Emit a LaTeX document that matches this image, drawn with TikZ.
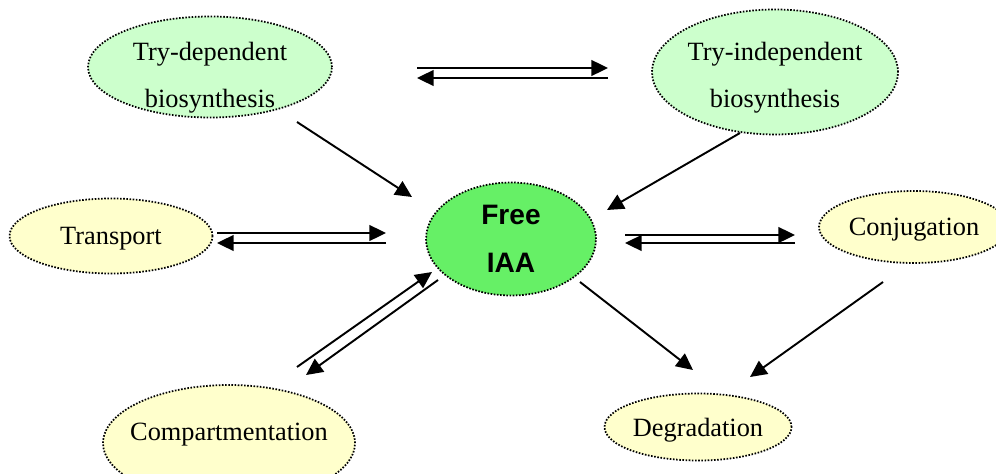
\documentclass[tikz,border=0pt]{standalone}
\usepackage{fontspec}
\setmainfont{Liberation Serif}
\newfontfamily\arialbold{Liberation Sans}
\usetikzlibrary{shapes.geometric,arrows.meta}
\definecolor{verdeclaro}{HTML}{CCFFCC}
\definecolor{amarillo}{HTML}{FFFFCC}
\definecolor{verde}{HTML}{66F066}

\begin{document}
\begin{tikzpicture}[
    x=0.02cm,y=-0.02cm,
    every node/.style={font=\fontsize{15pt}{26.6pt}\selectfont,align=center},
    ell/.style={ellipse,draw=black,line width=1pt,dash pattern=on 0.9pt off 0.9pt,inner sep=0pt},
    green/.style={ell,fill=verdeclaro},
    yellow/.style={ell,fill=amarillo,text depth=0pt},
    core/.style={ell,fill=verde,font=\arialbold\bfseries\fontsize{16pt}{27pt}\selectfont},
    arr/.style={-{Triangle[length=9.5pt,width=9pt]},line width=1.1pt}
  ]
    \useasboundingbox (0,0) rectangle (996,473);
    % pathways
    \node[green,minimum width=4.88cm,minimum height=2.02cm] (tdep) at (210,67) {};
    \node (tdeptext) at (210,78) {Try-dependent\\biosynthesis};
    \node[green,minimum width=4.92cm,minimum height=2.5cm] (tind) at (775,72) {};
    \node (tindtext) at (775,78) {Try-independent\\biosynthesis};
    \node[core,minimum width=3.4cm,minimum height=2.26cm] (free) at (511,239) {Free\\IAA};
    \node[yellow,minimum width=4.06cm,minimum height=1.5cm] (transp) at (111,236) {Transport};
    \node[yellow,minimum width=3.8cm,minimum height=1.44cm] (conj) at (914,227) {Conjugation};
    \node[yellow,minimum width=5.04cm,minimum height=2.32cm] (comp) at (229,443) {};
    \node[text depth=0pt] (comptext) at (229,432) {Compartmentation};
    \node[yellow,minimum width=3.74cm,minimum height=1.34cm] (degr) at (698,427) {Degradation};
    % arrow ends
    \coordinate (tdep-r) at (417,68);  \coordinate (tind-l) at (608,68);
    \coordinate (tdep-r2) at (417,78); \coordinate (tind-l2) at (608,78);
    \coordinate (transp-r) at (217,233); \coordinate (free-l) at (386,233);
    \coordinate (transp-r2) at (217,243); \coordinate (free-l2) at (386,243);
    \coordinate (free-r) at (625,235); \coordinate (conj-l) at (795,235);
    \coordinate (free-r2) at (625,243); \coordinate (conj-l2) at (795,243);
    \coordinate (comp-u) at (297,367); \coordinate (free-sw) at (432,272);
    \coordinate (free-sw2) at (438,280); \coordinate (comp-u2) at (306,375);
    \coordinate (tdep-se) at (297,122); \coordinate (free-nw) at (412,197);
    \coordinate (tind-s) at (740,133); \coordinate (free-ne) at (607,210);
    \coordinate (free-se) at (580,282); \coordinate (degr-n) at (693,370);
    \coordinate (conj-s) at (883,282); \coordinate (degr-ne) at (750,377);
    \draw[arr] (tdep-r) -- (tind-l);
    \draw[arr] (tind-l2) -- (tdep-r2);
    \draw[arr] (transp-r) -- (free-l);
    \draw[arr] (free-l2) -- (transp-r2);
    \draw[arr] (free-r) -- (conj-l);
    \draw[arr] (conj-l2) -- (free-r2);
    \draw[arr] (comp-u) -- (free-sw);
    \draw[arr] (free-sw2) -- (comp-u2);
    \draw[arr] (tdep-se) -- (free-nw);
    \draw[arr] (tind-s) -- (free-ne);
    \draw[arr] (free-se) -- (degr-n);
    \draw[arr] (conj-s) -- (degr-ne);
  \end{tikzpicture}
\end{document}
